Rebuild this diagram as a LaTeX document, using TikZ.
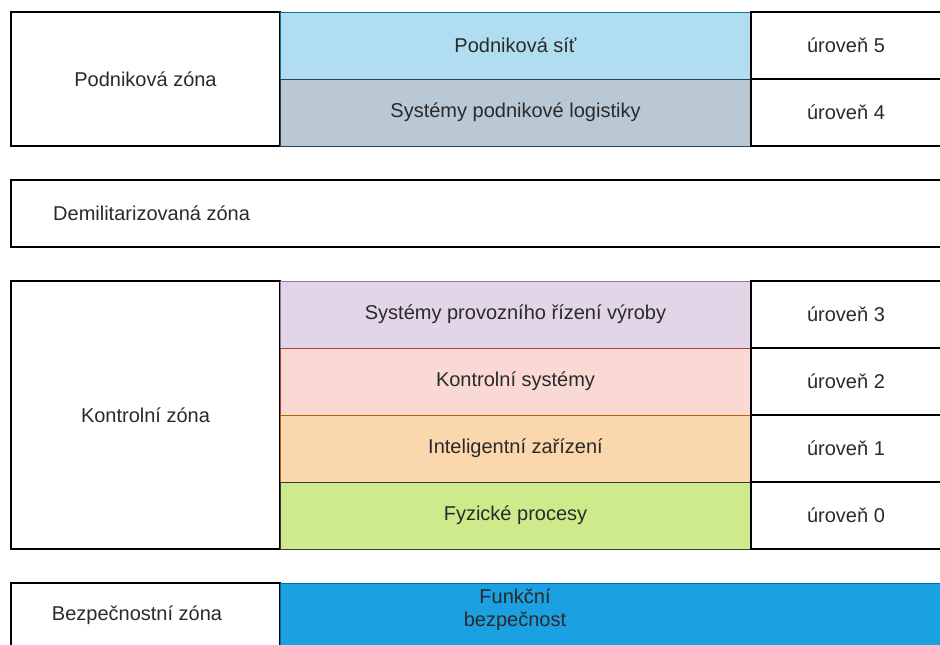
\documentclass[tikz,border=0pt]{standalone}
\usepackage{fontspec}
\setmainfont{Liberation Sans}
\definecolor{txt}{HTML}{2A2A2A}
\definecolor{netfill}{HTML}{B1DDF0}\definecolor{netline}{HTML}{10739E}
\definecolor{logfill}{HTML}{BAC8D3}\definecolor{logline}{HTML}{23445D}
\definecolor{mesfill}{HTML}{E1D5E7}\definecolor{mesline}{HTML}{9673A6}
\definecolor{ctlfill}{HTML}{FAD9D5}\definecolor{ctlline}{HTML}{AE4132}
\definecolor{devfill}{HTML}{FAD7AC}\definecolor{devline}{HTML}{B46504}
\definecolor{phyfill}{HTML}{CDEB8B}\definecolor{phyline}{HTML}{36393D}
\definecolor{sisfill}{HTML}{1BA1E2}\definecolor{sisline}{HTML}{006EAF}
\tikzset{
  cell/.style={rectangle, inner sep=0pt, outer sep=0pt, anchor=north west,
    text=txt, font=\fontsize{20}{23}\selectfont},
  zonebox/.style={cell, draw=black, line width=1.3pt},
  layer/.style={cell, line width=0.9pt, minimum width=471pt, minimum height=67pt},
  levelbox/.style={zonebox, minimum width=190pt, minimum height=67pt},
  label/.style={inner sep=0pt, text=txt, font=\fontsize{20}{23}\selectfont, align=center}
}
\begin{document}
\begin{tikzpicture}[x=1pt, y=-1pt]
  \useasboundingbox (0,0) rectangle (940,645);
  \clip (0,0) rectangle (940,645);
  % enterprise zone
  \node[zonebox, minimum width=269pt, minimum height=134pt] (pz) at (11,12) {Podniková zóna};
  \node[layer, draw=netline, fill=netfill] (l5) at (280,12) {Podniková síť};
  \node[layer, draw=logline, fill=logfill] (l4) at (280,79) {Systémy podnikové logistiky};
  \node[levelbox] (u5) at (751,12) {úroveň 5};
  \node[levelbox] (u4) at (751,79) {úroveň 4};
  % demilitarized zone
  \node[zonebox, minimum width=930pt, minimum height=67pt] (dmz) at (11,180) {};
  \node[label, anchor=west] (dmzt) at (53,213) {Demilitarizovaná zóna};
  % control zone
  \node[zonebox, minimum width=269pt, minimum height=268pt] (kz) at (11,281) {Kontrolní zóna};
  \node[layer, draw=mesline, fill=mesfill] (l3) at (280,281) {Systémy provozního řízení výroby};
  \node[layer, draw=ctlline, fill=ctlfill] (l2) at (280,348) {Kontrolní systémy};
  \node[layer, draw=devline, fill=devfill] (l1) at (280,415) {Inteligentní zařízení};
  \node[layer, draw=phyline, fill=phyfill] (l0) at (280,482) {Fyzické procesy};
  \node[levelbox] (u3) at (751,281) {úroveň 3};
  \node[levelbox] (u2) at (751,348) {úroveň 2};
  \node[levelbox] (u1) at (751,415) {úroveň 1};
  \node[levelbox] (u0) at (751,482) {úroveň 0};
  % safety zone
  \node[zonebox, minimum width=269pt, minimum height=70pt] (bz) at (11,583) {};
  \node[label] (bzt) at (137,615) {Bezpečnostní zóna};
  \node[cell, draw=sisline, fill=sisfill, line width=0.9pt, minimum width=662pt, minimum height=70pt] (fs) at (280,583) {};
  \node[label] (fst) at (515,610) {Funkční\\bezpečnost};
\end{tikzpicture}
\end{document}
